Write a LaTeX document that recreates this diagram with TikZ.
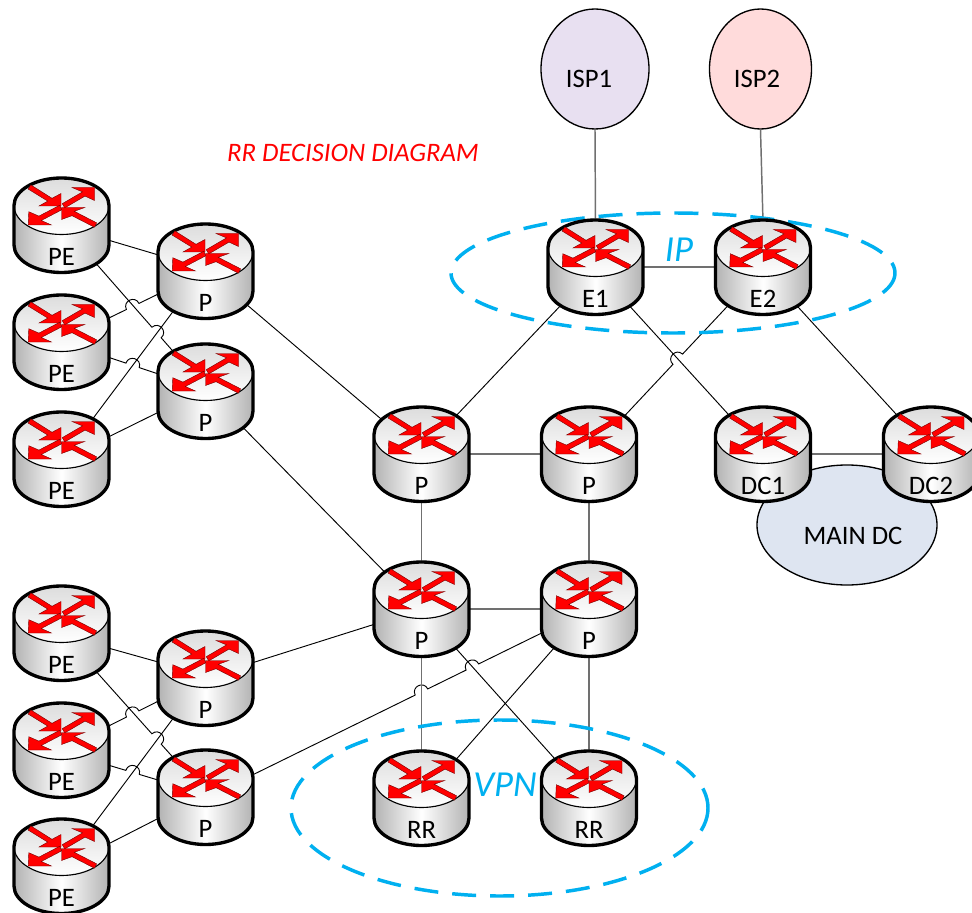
\documentclass[tikz,border=0pt]{standalone}
\usepackage{fontspec}
\setmainfont{Carlito}
\usetikzlibrary{calc,backgrounds,shapes.geometric}
\definecolor{ipblue}{HTML}{00B0F0}
\definecolor{hvgray}{HTML}{707070}
\tikzset{
  x=0.75pt,y=-0.75pt,
  hub/.style={circle,minimum size=67.5pt,inner sep=0pt},
  lab/.style={anchor=base,inner sep=0pt,font=\fontsize{20}{22}\selectfont},
  wire/.style={black,line width=0.7pt},
  wirehv/.style={hvgray,line width=1.1pt},
  cloud/.style={ellipse,draw=black,line width=1pt,inner sep=0pt},
  zone/.style={draw=ipblue,line width=2.6pt,dash pattern=on 18pt off 10.5pt},
  zonetext/.style={text=ipblue,inner sep=0pt,font=\fontsize{27.5}{30}\selectfont\itshape},
  arrowpart/.style={fill=red,draw=black!55!red,line width=0.3pt},
}
\newcommand{\router}[4]{%
  \node[hub] (#1) at (#2,#3+49) {};
  \begin{scope}[shift={(#2,#3+29.5)}]
    \shade[left color=black!30,right color=black!30,middle color=white]
      (-47.5,0) -- (-47.5,39.5) arc[start angle=180,end angle=0,x radius=47.5,y radius=27.5] -- (47.5,0) -- cycle;
    \shade[top color=black!14,bottom color=white] (0,0) ellipse[x radius=47.5,y radius=29];
    \draw[black,line width=0.85pt] (-47.5,0) arc[start angle=180,end angle=0,x radius=47.5,y radius=29];
    \draw[black,line width=2.5pt,line join=round]
      (-47.5,0) -- (-47.5,39.5) arc[start angle=180,end angle=0,x radius=47.5,y radius=27.5] -- (47.5,0)
      arc[start angle=0,end angle=-180,x radius=47.5,y radius=27.5] -- cycle;
    \draw[arrowpart] (-33.3,-16.4) -- (-13.8,-4.4) -- (-22.5,0.5) -- (-0.5,0.5) -- (-0.5,-12) -- (-9.5,-7.2) -- (-30.7,-20.6) -- cycle;
    \draw[arrowpart] (0.75,-1.85) -- (21,-13.6) -- (10.5,-18) -- (33,-18) -- (33,-5) -- (23.5,-9.4) -- (3.25,2.45) -- cycle;
    \draw[arrowpart] (-1.85,-0.2) -- (0.45,4.2) -- (-20.2,15) -- (-10,19.5) -- (-33.3,19.5) -- (-32.7,6.2) -- (-22.6,10.6) -- cycle;
    \draw[arrowpart] (0,2) -- (23.3,2) -- (12.75,5.8) -- (35.1,17.3) -- (32.9,21.7) -- (10.5,10.2) -- (0,14) -- cycle;
    \node[lab] at (0,60) {#4};
  \end{scope}%
}
\newcommand{\bump}[4]{%
  \coordinate (#4) at ($(#1)!#3!(#2)$);
  \coordinate (#4a) at ($(#4)!5.25pt!(#1)$);
  \coordinate (#4b) at ($(#4)!5.25pt!(#2)$);
  \coordinate (#4c) at ($(#4a)!7pt!90:(#4)$);
  \coordinate (#4d) at ($(#4b)!7pt!-90:(#4)$);
}
\newcommand{\jumpwire}[3]{%
  \bump{#1}{#2}{#3}{jp}
  \draw[wire] (#1) -- (jpa) .. controls (jpc) and (jpd) .. (jpb) -- (#2);
}
\begin{document}
\begin{tikzpicture}
\useasboundingbox (0,0) rectangle (972,913);
% routers
\router{pea}{61.5}{176}{PE}
\router{peb}{61.5}{293}{PE}
\router{pec}{61.5}{410}{PE}
\router{pa}{205.5}{222}{P}
\router{pb}{205.5}{342}{P}
\router{ca}{421.5}{405}{P}
\router{cb}{589}{405}{P}
\router{ea}{595.5}{218}{E1}
\router{eb}{763}{218}{E2}
\router{da}{763}{405}{DC1}
\router{db}{931}{405}{DC2}
\router{cc}{421.5}{560}{P}
\router{cd}{589}{560}{P}
\router{ra}{421.5}{749}{RR}
\router{rb}{589}{749}{RR}
\router{ped}{61.5}{584}{PE}
\router{pee}{61.5}{701}{PE}
\router{pef}{61.5}{817}{PE}
\router{pc}{205.5}{629}{P}
\router{pd}{205.5}{748}{P}
\begin{scope}[on background layer]
  \fill[white] (0,0) rectangle (972,913);
  \node[cloud,minimum width=81pt,minimum height=90pt,fill={rgb,255:red,232;green,224;blue,241}] (ispa) at (595,69) {};
  \node[cloud,minimum width=76.5pt,minimum height=90pt,fill={rgb,255:red,255;green,219;blue,219}] (ispb) at (760.5,69) {};
  \node[cloud,minimum width=135pt,minimum height=90pt,fill={rgb,255:red,222;green,229;blue,241}] (maindc) at (847,525) {};
  % upper access
  \draw[wire] (pea.-18) -- (pa.161);
  \jumpwire{pea.-48.5}{pb.129}{0.76}
  \jumpwire{peb.27.7}{pa.206.7}{0.49}
  \jumpwire{peb.-18.9}{pb.160}{0.48}
  \draw[wire] (pec.52.6) -- (pa.231);
  \draw[wire] (pec.25.2) -- (pb.204.8);
  % lower access
  \draw[wire] (ped.-18) -- (pc.161);
  \jumpwire{ped.-48.5}{pd.129}{0.76}
  \jumpwire{pee.27.7}{pc.206.7}{0.49}
  \jumpwire{pee.-18.9}{pd.160}{0.48}
  \draw[wire] (pef.52.6) -- (pc.231);
  \draw[wire] (pef.25.2) -- (pd.204.8);
  % core
  \draw[wire] (pa.-39) -- (ca.139);
  \draw[wire] (pb.-44.5) -- (cc.135);
  \draw[wire] (pc.18.4) -- (cc.198);
  \bump{pd.25.5}{cd.207.7}{0.579}{ja}
  \bump{pd.25.5}{cd.207.7}{0.7475}{jb}
  \draw[wire] (pd.25.5) -- (jaa) .. controls (jac) and (jad) .. (jab) -- (jba) .. controls (jbc) and (jbd) .. (jbb) -- (cd.207.7);
  \draw[wirehv] (ca.east) -- (cb.west);
  \draw[wirehv] (cc.east) -- (cd.west);
  \draw[wirehv] (ca.south) -- (cc.north);
  \draw[wirehv] (cb.south) -- (cd.north);
  \draw[wirehv] (cc.south) -- (ra.north);
  \draw[wirehv] (cd.south) -- (rb.north);
  \draw[wire] (cc.-49) -- (rb.131.4);
  \draw[wire] (cd.228.6) -- (ra.48.5);
  \draw[wire] (ca.48.1) -- (ea.228.6);
  \jumpwire{cb.47.9}{eb.228.6}{0.513}
  \draw[wire] (ea.-49) -- (da.131);
  \draw[wire] (eb.-49) -- (db.131);
  \draw[wirehv] (ea.east) -- (eb.west);
  \draw[wirehv] (da.east) -- (db.west);
  \draw[wirehv] (ispa.south) -- (ea.north);
  \draw[wirehv] (ispb.south) -- (eb.north);
  % zones
  \draw[zone] (673,273) ellipse[x radius=222,y radius=60];
  \draw[zone] (499.5,808) ellipse[x radius=208.5,y radius=88];
\end{scope}
\node[lab] (ispatext) at (589,88) {ISP1};
\node[lab] (ispbtext) at (757,88) {ISP2};
\node[lab] (maindctext) at (853,544) {MAIN DC};
\node[zonetext] (iplabel) at (679,250) {IP};
\node[zonetext] (vpnlabel) at (505,785) {VPN};
\node[inner sep=0pt,text=red,font=\fontsize{20}{22}\selectfont\itshape] (title) at (353,153) {RR DECISION DIAGRAM};
\end{tikzpicture}
\end{document}
